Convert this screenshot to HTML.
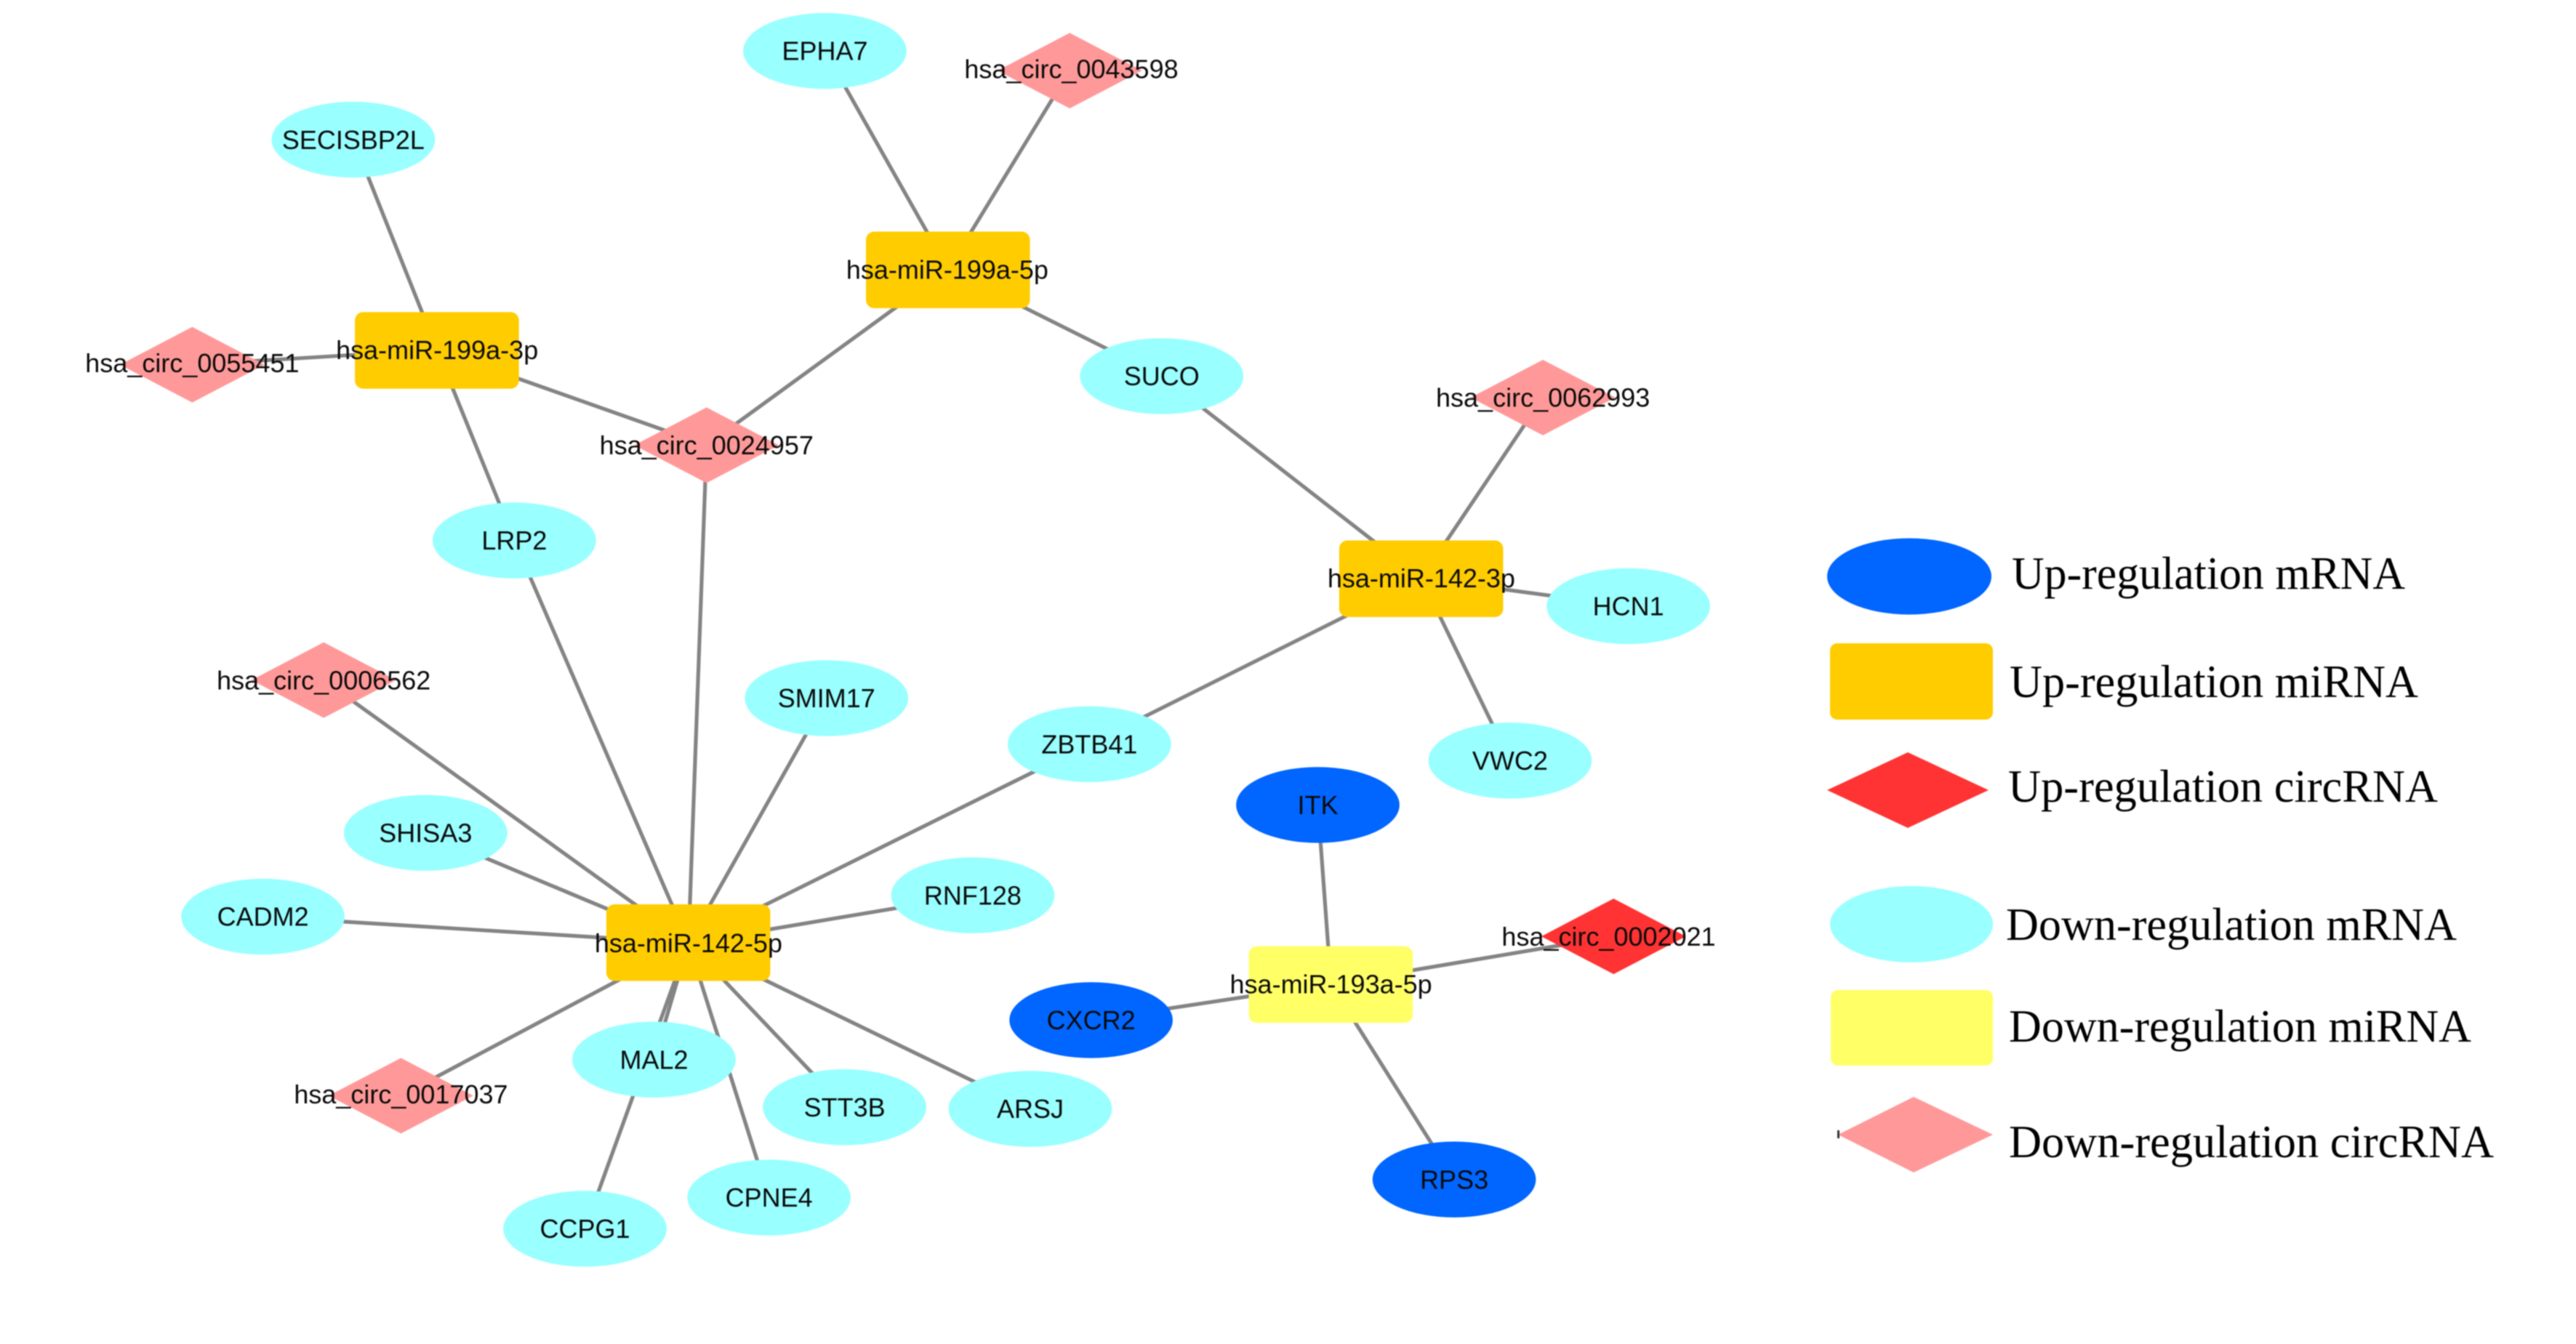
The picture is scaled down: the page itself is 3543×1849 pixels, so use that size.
<!DOCTYPE html>
<html lang="en">
<head>
<meta charset="utf-8">
<title>Regulatory network</title>
<style>
html,body{margin:0;padding:0;background:#fff;width:3543px;height:1849px;overflow:hidden}
svg{display:block;filter:blur(0.7px)}
.e{stroke:#848484;stroke-width:2.3;fill:none}
.n text{font-family:"Liberation Sans",Arial,sans-serif;font-size:15.93px;fill:#0a0a0a;text-anchor:middle}
.c{fill:#99FFFF}.b{fill:#0066FF}.o{fill:#FFCC00}.y{fill:#FFFF66}.p{fill:#FF9999}.r{fill:#FF3333}
.t{font-family:"Liberation Serif","Times New Roman",serif;font-size:63px;fill:#000}
</style>
</head>
<body>
<svg xmlns="http://www.w3.org/2000/svg" width="3543" height="1849" viewBox="0 0 3543 1849">
<rect width="3543" height="1849" fill="#fff"/>
<g transform="scale(2.26)">
  <g class="e">
    <line x1="502" y1="31" x2="577" y2="164"/>
    <line x1="651" y1="43" x2="577" y2="164"/>
    <line x1="577" y1="164" x2="707" y2="229"/>
    <line x1="577" y1="164" x2="430" y2="271"/>
    <line x1="215" y1="85" x2="266" y2="213"/>
    <line x1="117" y1="222" x2="266" y2="213"/>
    <line x1="266" y1="213" x2="430" y2="271"/>
    <line x1="266" y1="213" x2="313" y2="329"/>
    <line x1="430" y1="271" x2="419" y2="574"/>
    <line x1="313" y1="329" x2="419" y2="574"/>
    <line x1="707" y1="229" x2="865" y2="352"/>
    <line x1="939" y1="242" x2="865" y2="352"/>
    <line x1="991" y1="369" x2="865" y2="352"/>
    <line x1="919" y1="463" x2="865" y2="352"/>
    <line x1="663" y1="453" x2="865" y2="352"/>
    <line x1="663" y1="453" x2="419" y2="574"/>
    <line x1="197" y1="414" x2="419" y2="574"/>
    <line x1="503" y1="425" x2="419" y2="574"/>
    <line x1="259" y1="507" x2="419" y2="574"/>
    <line x1="160" y1="558" x2="419" y2="574"/>
    <line x1="592" y1="545" x2="419" y2="574"/>
    <line x1="244" y1="667" x2="419" y2="574"/>
    <line x1="398" y1="645" x2="419" y2="574"/>
    <line x1="514" y1="674" x2="419" y2="574"/>
    <line x1="627" y1="675" x2="419" y2="574"/>
    <line x1="468" y1="729" x2="419" y2="574"/>
    <line x1="356" y1="748" x2="419" y2="574"/>
    <line x1="802" y1="490" x2="810" y2="599"/>
    <line x1="664" y1="621" x2="810" y2="599"/>
    <line x1="885" y1="718" x2="810" y2="599"/>
    <line x1="982" y1="570" x2="810" y2="599"/>
  </g>
  <g class="n">
    <ellipse class="c" cx="502" cy="31" rx="49.7" ry="23.1"/>
    <ellipse class="c" cx="215" cy="85" rx="49.7" ry="23.1"/>
    <ellipse class="c" cx="707" cy="229" rx="49.7" ry="23.1"/>
    <ellipse class="c" cx="313" cy="329" rx="49.7" ry="23.1"/>
    <ellipse class="c" cx="991" cy="369" rx="49.7" ry="23.1"/>
    <ellipse class="c" cx="503" cy="425" rx="49.7" ry="23.1"/>
    <ellipse class="c" cx="663" cy="453" rx="49.7" ry="23.1"/>
    <ellipse class="c" cx="919" cy="463" rx="49.7" ry="23.1"/>
    <ellipse class="c" cx="259" cy="507" rx="49.7" ry="23.1"/>
    <ellipse class="c" cx="160" cy="558" rx="49.7" ry="23.1"/>
    <ellipse class="c" cx="592" cy="545" rx="49.7" ry="23.1"/>
    <ellipse class="c" cx="398" cy="645" rx="49.7" ry="23.1"/>
    <ellipse class="c" cx="514" cy="674" rx="49.7" ry="23.1"/>
    <ellipse class="c" cx="627" cy="675" rx="49.7" ry="23.1"/>
    <ellipse class="c" cx="468" cy="729" rx="49.7" ry="23.1"/>
    <ellipse class="c" cx="356" cy="748" rx="49.7" ry="23.1"/>
    <ellipse class="b" cx="802" cy="490" rx="49.7" ry="23.1"/>
    <ellipse class="b" cx="664" cy="621" rx="49.7" ry="23.1"/>
    <ellipse class="b" cx="885" cy="718" rx="49.7" ry="23.1"/>

    <rect class="o" x="527" y="141" width="99.8" height="46.6" rx="5"/>
    <rect class="o" x="216" y="190" width="99.8" height="46.6" rx="5"/>
    <rect class="o" x="815" y="329" width="99.8" height="46.6" rx="5"/>
    <rect class="o" x="369" y="550.5" width="99.8" height="46.6" rx="5"/>
    <rect class="y" x="760" y="576" width="99.8" height="46.6" rx="5"/>

    <polygon class="p" points="607,43 651,20 695,43 651,66"/>
    <polygon class="p" points="73,222 117,199 161,222 117,245"/>
    <polygon class="p" points="386,271 430,248 474,271 430,294"/>
    <polygon class="p" points="895,242 939,219 983,242 939,265"/>
    <polygon class="p" points="153,414 197,391 241,414 197,437"/>
    <polygon class="p" points="200,667 244,644 288,667 244,690"/>
    <polygon class="r" points="938,570 982,547 1026,570 982,593"/>

    <g transform="translate(0,-0.4)">
    <text x="502" y="37">EPHA7</text>
    <text x="215" y="91">SECISBP2L</text>
    <text x="707" y="235">SUCO</text>
    <text x="313" y="335">LRP2</text>
    <text x="991" y="375">HCN1</text>
    <text x="503" y="431">SMIM17</text>
    <text x="663" y="459">ZBTB41</text>
    <text x="919" y="469">VWC2</text>
    <text x="259" y="513">SHISA3</text>
    <text x="160" y="564">CADM2</text>
    <text x="592" y="551">RNF128</text>
    <text x="398" y="651">MAL2</text>
    <text x="514" y="680">STT3B</text>
    <text x="627" y="681">ARSJ</text>
    <text x="468" y="735">CPNE4</text>
    <text x="356" y="754">CCPG1</text>
    <text x="802" y="496">ITK</text>
    <text x="664" y="627">CXCR2</text>
    <text x="885" y="724">RPS3</text>

    <text x="576.5" y="170">hsa-miR-199a-5p</text>
    <text x="266" y="219">hsa-miR-199a-3p</text>
    <text x="865" y="358">hsa-miR-142-3p</text>
    <text x="419" y="580">hsa-miR-142-5p</text>
    <text x="810" y="605">hsa-miR-193a-5p</text>

    <text x="652" y="48">hsa_circ_0043598</text>
    <text x="117" y="227">hsa_circ_0055451</text>
    <text x="430" y="277">hsa_circ_0024957</text>
    <text x="939" y="248">hsa_circ_0062993</text>
    <text x="197" y="420">hsa_circ_0006562</text>
    <text x="244" y="672">hsa_circ_0017037</text>
    <text x="979" y="576">hsa_circ_0002021</text>
    </g>
  </g>
</g>

<!-- Legend -->
<ellipse class="b" cx="2626" cy="793" rx="113" ry="52.5"/>
<rect class="o" x="2517" y="885" width="224" height="105" rx="10"/>
<polygon class="r" points="2513,1087 2624,1035 2735,1087 2624,1139"/>
<ellipse class="c" cx="2629" cy="1271.5" rx="112" ry="52.5"/>
<rect class="y" x="2518" y="1362" width="223" height="104" rx="10"/>
<polygon class="p" points="2528,1561 2632,1509 2741,1561 2632,1613"/>
<rect x="2527" y="1555" width="3" height="11" fill="#333"/>

<text class="t" x="2767" y="810" textLength="541" lengthAdjust="spacingAndGlyphs">Up-regulation mRNA</text>
<text class="t" x="2764" y="959" textLength="562" lengthAdjust="spacingAndGlyphs">Up-regulation miRNA</text>
<text class="t" x="2762" y="1103" textLength="591" lengthAdjust="spacingAndGlyphs">Up-regulation circRNA</text>
<text class="t" x="2759" y="1293" textLength="620" lengthAdjust="spacingAndGlyphs">Down-regulation mRNA</text>
<text class="t" x="2763" y="1433" textLength="636" lengthAdjust="spacingAndGlyphs">Down-regulation miRNA</text>
<text class="t" x="2763" y="1592" textLength="667" lengthAdjust="spacingAndGlyphs">Down-regulation circRNA</text>
</svg>
</body>
</html>
